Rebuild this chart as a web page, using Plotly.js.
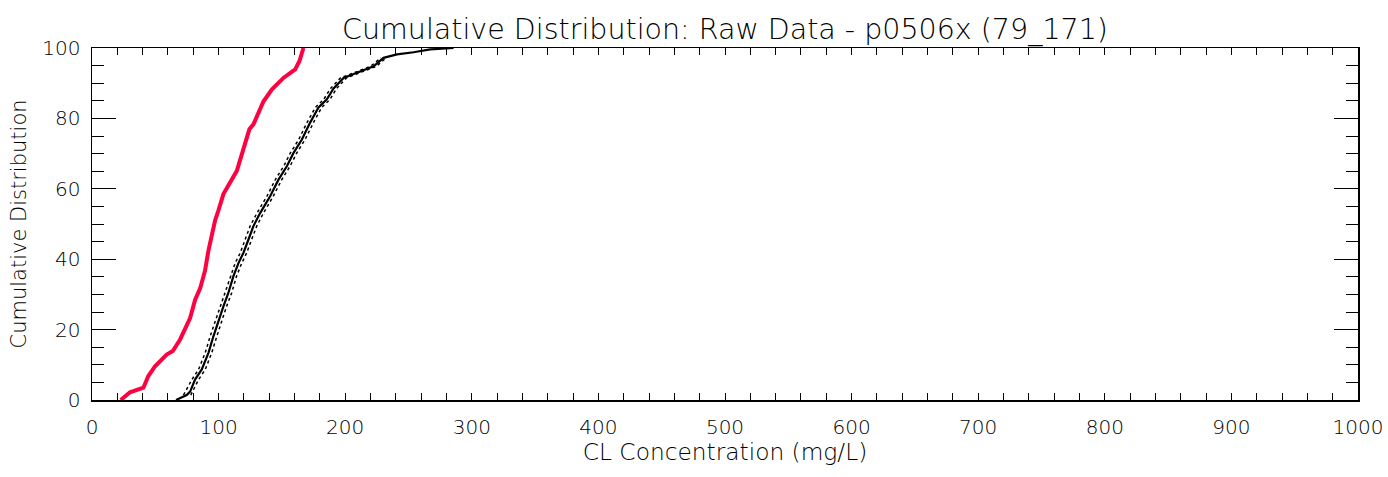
<!DOCTYPE html>
<html>
<head>
<meta charset="utf-8">
<script src="https://cdn.plot.ly/plotly-3.0.1.min.js"></script>
<style>html,body{margin:0;padding:0;background:#fff;}#chart{width:1388px;height:477px;}</style>
</head>
<body>
<div id="chart"></div>
<script>
const redX = [22.7, 30, 40.6, 44.5, 49.8, 59, 63.8, 69.6, 77.5, 81.4, 85.4, 89.3, 92, 94.6, 97.2, 99.8, 103.8, 114.4, 119.6, 124.3, 127.5, 135.4, 142, 151.2, 160.5, 163.9, 167];
const redY = [0, 2.2, 3.5, 6.8, 9.6, 12.9, 13.9, 17.2, 23.3, 28.4, 31.7, 36.8, 42.5, 47.3, 51, 53.8, 58.5, 65.1, 71.7, 76.9, 78.3, 84.8, 88.2, 91.5, 93.9, 96.3, 100];

const blackX = [66.4, 74.8, 77.5, 81.4, 86.7, 92, 95.9, 99.8, 103.8, 107.7, 111.7, 115.7, 119.6, 123.6, 127.5, 132.8, 140.7, 147.3, 153.9, 159.2, 165.8, 172.3, 178.9, 185.5, 190.8, 198.7, 209.2, 222.4, 230.3, 240.9, 254, 267.2, 285.6];
const blackY = [0, 1.4, 2.4, 5.8, 8.7, 13.4, 18.1, 22.4, 26.6, 30.4, 35.2, 38.9, 41.8, 45.6, 49.4, 53.1, 57.9, 62.6, 66.4, 70.2, 74, 78.8, 83.1, 85.4, 88.5, 91.5, 92.9, 94.8, 97.2, 98.2, 98.8, 99.6, 100];

const boundY = [1.4, 5.8, 8.7, 13.4, 18.1, 22.4, 26.6, 30.4, 35.2, 38.9, 41.8, 45.6, 49.4, 53.1, 57.9, 62.6, 66.4, 70.2, 74, 78.8, 83.1, 85.4, 88.5, 91.5, 94.8, 97.2];
const upperX = [78, 84.2, 89.5, 94.6, 98.6, 102.4, 106.3, 110.3, 114.2, 118.3, 122.2, 126.1, 130.1, 135.4, 143.2, 149.9, 156.4, 161.8, 168.3, 174.9, 181.4, 188, 193.2, 201, 224.6, 232.3];
const lowerX = [72.3, 78.9, 84.2, 89.4, 93.3, 97.3, 101.3, 105.2, 109.2, 113.1, 117.1, 121.1, 124.9, 130.3, 138.2, 144.8, 151.4, 156.7, 163.3, 169.8, 176.4, 183, 188.4, 196.3, 220.1, 228.2];

const titleText = "Cumulative Distribution: Raw Data - p0506x (79_171)";
const xTitle = "CL Concentration (mg/L)";
const yTitle = "Cumulative Distribution";

const font = "DejaVu Sans, sans-serif";
const txt = '#000';

const traces = [
  {x: lowerX, y: boundY, mode: 'lines', line: {color: '#000', width: 1.5, dash: 'dot'}, hoverinfo: 'skip'},
  {x: upperX, y: boundY, mode: 'lines', line: {color: '#000', width: 1.5, dash: 'dot'}, hoverinfo: 'skip'},
  {x: blackX, y: blackY, mode: 'lines', line: {color: '#000', width: 2.2}},
  {x: redX, y: redY, mode: 'lines', line: {color: 'rgb(255,0,64)', width: 4}}
];

const layout = {
  width: 1388, height: 477,
  margin: {l: 92, r: 30, t: 48, b: 77, pad: 0},
  paper_bgcolor: '#fff', plot_bgcolor: '#fff',
  showlegend: false,
  font: {family: font, color: txt, size: 20, weight: 300},
  title: {text: titleText, font: {family: font, size: 28.5, color: txt, weight: 300}, x: 0.5, xref: 'paper', xanchor: 'center', y: 0.94, yref: 'container', yanchor: 'middle'},
  xaxis: {
    range: [0, 1000], dtick: 100, tick0: 0,
    showgrid: false, zeroline: false,
    showline: true, linecolor: '#000', linewidth: 1.5, mirror: 'ticks',
    ticks: 'inside', ticklen: 7, tickwidth: 1, tickcolor: '#000',
    ticklabelstandoff: 8,
    minor: {dtick: 20, ticks: 'inside', ticklen: 7, tickcolor: '#000', tickwidth: 1, showgrid: false},
    tickfont: {family: font, size: 20, color: txt, weight: 300},
    title: {text: xTitle, font: {family: font, size: 23.3, color: txt, weight: 300}, standoff: 5},
    automargin: false
  },
  yaxis: {
    range: [0, 100], dtick: 20, tick0: 0,
    showgrid: false, zeroline: false,
    showline: true, linecolor: '#000', linewidth: 1.5, mirror: 'ticks',
    ticks: 'inside', ticklen: 24, tickwidth: 1, tickcolor: '#000',
    ticklabelstandoff: 6,
    minor: {dtick: 5, ticks: 'inside', ticklen: 12, tickcolor: '#000', tickwidth: 1, showgrid: false},
    tickfont: {family: font, size: 20, color: txt, weight: 300},
    title: {text: yTitle, font: {family: font, size: 21, color: txt, weight: 300}, standoff: 10},
    automargin: false
  }
};

Plotly.newPlot('chart', traces, layout, {displayModeBar: false, staticPlot: true});
</script>
</body>
</html>
